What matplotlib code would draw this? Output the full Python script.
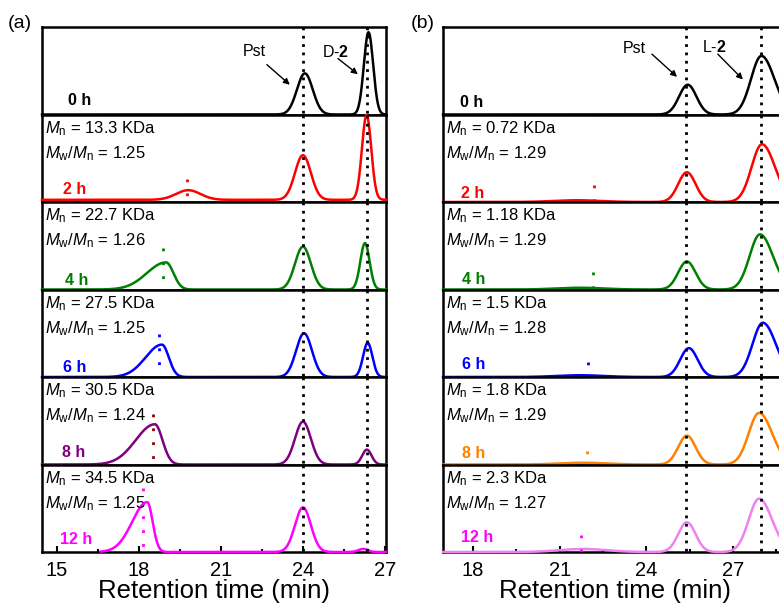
import numpy as np
import matplotlib
matplotlib.use("Agg")
import matplotlib.pyplot as plt
from matplotlib.ticker import MultipleLocator

plt.rcParams['font.family'] = ['Liberation Sans', 'DejaVu Sans']
plt.rcParams['mathtext.fontset'] = 'custom'
plt.rcParams['mathtext.rm'] = 'Liberation Sans'
plt.rcParams['mathtext.it'] = 'Liberation Sans:italic'
plt.rcParams['mathtext.bf'] = 'Liberation Sans:bold'

# ---------------- data: panel (a) ----------------
a_labels = ['0 h', '2 h', '4 h', '6 h', '8 h', '12 h']
a_colors = ['#000000', '#FF0000', '#008000', '#0000FF', '#800080', '#FF00FF']
a_label_colors = ['#000000', '#FF0000', '#008000', '#0000FF', '#800080', '#FF00FF']
a_mark_colors = [None, '#FF0000', '#008000', '#0000FF', '#8B0000', '#FF00FF']
a_Mn = [None, '13.3', '22.7', '27.5', '30.5', '34.5']
a_PDI = [None, '1.25', '1.26', '1.25', '1.24', '1.25']
a_mark_pos = [None, 19.75, 18.88, 18.73, 18.50, 18.15]
a_mark_top = [0, 0.26, 0.47, 0.49, 0.58, 0.73]
a_poly_center = [19.8, 19.8, 18.99, 18.84, 18.58, 18.30]
a_poly_height = [0.0, 0.11, 0.31, 0.37, 0.46, 0.57]
a_poly_sigL = [0.45, 0.45, 0.70, 0.60, 0.70, 0.55]
a_poly_sigR = [0.45, 0.45, 0.27, 0.25, 0.28, 0.20]
a_pst_center = [24.07, 24.0, 24.0, 24.04, 24.0, 24.0]
a_pst_height = [0.47, 0.51, 0.49, 0.50, 0.49, 0.51]
a_mono_center = [26.40, 26.33, 26.27, 26.37, 26.34, 26.20]
a_mono_height = [0.94, 0.97, 0.53, 0.39, 0.17, 0.035]
a_base = [0.0, 0.025, 0.0, 0.0, 0.0, 0.0]
a_xstart = [14.45, 14.45, 14.45, 14.45, 14.45, 16.6]
a_ref_lines = [24.0, 26.34]
a_xlim = (14.45, 27.04)
a_ticks = [15, 18, 21, 24, 27]

# ---------------- data: panel (b) ----------------
b_labels = ['0 h', '2 h', '4 h', '6 h', '8 h', '12 h']
b_colors = ['#000000', '#FF0000', '#008000', '#0000FF', '#FF7F00', '#EE82EE']
b_label_colors = ['#000000', '#FF0000', '#008000', '#0000FF', '#FF7F00', '#FF00FF']
b_mark_colors = [None, '#FF0000', '#008000', '#0000FF', '#FF7F00', '#FF00FF']
b_Mn = [None, '0.72', '1.18', '1.5', '1.8', '2.3']
b_PDI = [None, '1.29', '1.29', '1.28', '1.29', '1.27']
b_mark_pos = [None, 22.20, 22.15, 21.98, 21.95, 21.74]
b_mark_top = [0, 0.20, 0.20, 0.17, 0.15, 0.20]
b_poly_center = [21.7, 21.6, 21.7, 21.7, 21.8, 21.8]
b_poly_height = [0.0, 0.02, 0.02, 0.02, 0.02, 0.035]
b_poly_sig = [0.8, 0.8, 0.8, 0.8, 0.8, 0.8]
b_pst_center = [25.43, 25.40, 25.40, 25.47, 25.40, 25.40]
b_pst_height = [0.34, 0.34, 0.32, 0.33, 0.33, 0.34]
b_mono_center = [27.98, 28.00, 27.93, 28.03, 27.90, 27.90]
b_mono_height = [0.67, 0.66, 0.63, 0.62, 0.59, 0.61]
b_ref_lines = [25.38, 27.95]
b_xlim = (16.96, 28.865)
b_ticks = [18, 21, 24, 27]

# ---------------- layout ----------------
W, H = 779, 605
fig = plt.figure(figsize=(W / 100, H / 100), dpi=100)
TOP, ROWH, AXW = 27.0, 87.5, 344.0


def peak(x, c, h, sl, sr):
    s = np.where(x < c, sl, sr)
    return h * np.exp(-0.5 * ((x - c) / s) ** 2)


def make_panel(left_px, xlim, ticks, colors, label_colors, labels, mark_colors,
               mark_pos, mark_top, Mn, PDI, curves, ref_lines, label_pos):
    axes = []
    for i in range(6):
        bottom_px = TOP + (i + 1) * ROWH
        ax = fig.add_axes([left_px / W, 1 - bottom_px / H, AXW / W, ROWH / H])
        ax.set_xlim(*xlim)
        ax.set_ylim(0, 1)
        ax.set_yticks([])
        for sp in ax.spines.values():
            sp.set_linewidth(1.8)
        x, y = curves[i]
        ax.plot(x, y, color=colors[i], lw=1.8, zorder=3, clip_on=False)
        for r in ref_lines:
            ax.plot([r, r], [1, 0], color='black', lw=2.0, ls=(0, (1, 2)),
                    zorder=4)
        if mark_colors[i] is not None:
            ax.plot([mark_pos[i], mark_pos[i]], [mark_top[i], 0],
                    color=mark_colors[i], lw=2.0, ls=(0, (1, 4)), zorder=4)
            ax.text(0.009, 0.79, r"$M_\mathrm{n}$ = " + Mn[i] + " KDa",
                    transform=ax.transAxes, fontsize=12, ha='left', va='baseline')
            ax.text(0.009, 0.50, r"$M_\mathrm{w}$/$M_\mathrm{n}$ = " + PDI[i],
                    transform=ax.transAxes, fontsize=12, ha='left', va='baseline')
        lx, ly = label_pos[i]
        ax.text(lx, ly, labels[i], transform=ax.transAxes, fontsize=11.5,
                fontweight='bold', color=label_colors[i], ha='left', va='center')
        if i < 5:
            ax.tick_params(axis='x', which='both', bottom=False, labelbottom=False)
        else:
            ax.set_xticks(ticks)
            ax.xaxis.set_minor_locator(MultipleLocator(1.5))
            ax.tick_params(axis='x', which='major', direction='in', length=4,
                           width=1.5, labelsize=14.5, pad=6.5)
            ax.tick_params(axis='x', which='minor', direction='in', length=2.5,
                           width=1.5)
        axes.append(ax)
    return axes


# panel (a) curves
a_curves = []
for i in range(6):
    x = np.linspace(a_xstart[i], a_xlim[1], 1500)
    y = (a_base[i]
         + peak(x, a_poly_center[i], a_poly_height[i], a_poly_sigL[i], a_poly_sigR[i])
         + peak(x, a_pst_center[i], a_pst_height[i], 0.29, 0.29)
         + peak(x, a_mono_center[i], a_mono_height[i], 0.17, 0.17))
    a_curves.append((x, y))

b_curves = []
for i in range(6):
    x = np.linspace(b_xlim[0], b_xlim[1], 1500)
    y = (peak(x, b_poly_center[i], b_poly_height[i], b_poly_sig[i], b_poly_sig[i])
         + peak(x, b_pst_center[i], b_pst_height[i], 0.30, 0.30)
         + peak(x, b_mono_center[i], b_mono_height[i], 0.36, 0.45))
    b_curves.append((x, y))

a_label_pos = [(0.076, 0.16), (0.061, 0.14), (0.067, 0.10), (0.061, 0.11),
               (0.058, 0.14), (0.052, 0.14)]
b_label_pos = [(0.049, 0.14), (0.052, 0.10), (0.055, 0.11), (0.055, 0.14),
               (0.055, 0.13), (0.052, 0.16)]

axa = make_panel(42, a_xlim, a_ticks, a_colors, a_label_colors, a_labels,
                 a_mark_colors, a_mark_pos, a_mark_top, a_Mn, a_PDI, a_curves,
                 a_ref_lines, a_label_pos)
axb = make_panel(443, b_xlim, b_ticks, b_colors, b_label_colors, b_labels,
                 b_mark_colors, b_mark_pos, b_mark_top, b_Mn, b_PDI, b_curves,
                 b_ref_lines, b_label_pos)

# annotations on the top rows
arrow = dict(arrowstyle='-|>', lw=1.0, color='black', mutation_scale=9,
             shrinkA=0, shrinkB=0)
t0 = axa[0]
tr = t0.get_xaxis_transform()
t0.text(21.80, 0.72, 'Pst', transform=tr, fontsize=11.5, ha='left', va='center')
t0.annotate('', xy=(23.52, 0.34), xytext=(22.68, 0.57), xycoords=tr,
            textcoords=tr, arrowprops=arrow)
t0.text(24.70, 0.72, r'D-$\mathbf{2}$', transform=tr, fontsize=11.5,
        ha='left', va='center')
t0.annotate('', xy=(26.01, 0.46), xytext=(25.28, 0.64), xycoords=tr,
            textcoords=tr, arrowprops=arrow)

t1 = axb[0]
tr = t1.get_xaxis_transform()
t1.text(23.19, 0.75, 'Pst', transform=tr, fontsize=11.5, ha='left', va='center')
t1.annotate('', xy=(25.06, 0.43), xytext=(24.19, 0.69), xycoords=tr,
            textcoords=tr, arrowprops=arrow)
t1.text(25.92, 0.77, r'L-$\mathbf{2}$', transform=tr, fontsize=11.5,
        ha='left', va='center')
t1.annotate('', xy=(27.34, 0.40), xytext=(26.47, 0.69), xycoords=tr,
            textcoords=tr, arrowprops=arrow)

# panel letters and axis titles
fig.text(8 / W, 1 - 24 / H, '(a)', fontsize=14, ha='left', va='center')
fig.text(411 / W, 1 - 24 / H, '(b)', fontsize=14, ha='left', va='center')
fig.text(214 / W, 1 - 598 / H, 'Retention time (min)', fontsize=18.5,
         ha='center', va='baseline')
fig.text(615 / W, 1 - 598 / H, 'Retention time (min)', fontsize=18.5,
         ha='center', va='baseline')

fig.savefig('out.png', dpi=100)
